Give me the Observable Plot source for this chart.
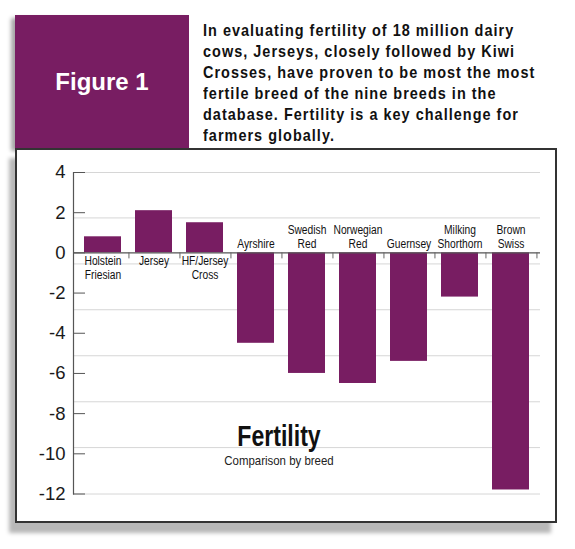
<!DOCTYPE html>
<html><head><meta charset="utf-8">
<script src="https://cdn.jsdelivr.net/npm/d3@7"></script>
<script src="https://cdn.jsdelivr.net/npm/@observablehq/plot@0.6"></script>
<style>
body{margin:0;background:#fff;}
#page{position:relative;width:575px;height:549px;overflow:hidden;background:#fff;}
#figbox{position:absolute;left:15px;top:15px;width:174px;height:133px;background:#781d62;box-shadow:-4px 3px 4px rgba(0,0,0,0.35);}
#figlabel{position:absolute;left:0;width:174px;top:53px;text-align:center;color:#fff;font:bold 24px "Liberation Sans",Arial,sans-serif;line-height:28px;}
#intro{position:absolute;left:203px;top:20px;font:bold 17px "Liberation Sans",Arial,sans-serif;letter-spacing:1.2px;line-height:21px;color:#111;white-space:nowrap;transform:scaleX(0.85);transform-origin:0 0;}
#chartbox{position:absolute;left:15px;top:148px;width:538px;height:371px;border:2px solid #333;background:#fff;box-shadow:-6px 10px 4px #b8b8b8;}
#ttl{position:absolute;left:179px;width:200px;top:419px;text-align:center;font:bold 30px "Liberation Sans",Arial,sans-serif;line-height:34px;color:#111;transform:scaleX(0.77);transform-origin:50% 0;}
#sub{position:absolute;left:179px;width:200px;top:453px;text-align:center;font:13px "Liberation Sans",Arial,sans-serif;line-height:16px;color:#222;transform:scaleX(0.88);transform-origin:50% 0;}
</style></head><body>
<div id="page">
  <div id="figbox"><div id="figlabel">Figure 1</div></div>
  <div id="intro">In evaluating fertility of 18 million dairy<br>cows, Jerseys, closely followed by Kiwi<br>Crosses, have proven to be most the most<br>fertile breed of the nine breeds in the<br>database. Fertility is a key challenge for<br>farmers globally.</div>
  <div id="chartbox"></div>
  <div id="ttl">Fertility</div>
  <div id="sub">Comparison by breed</div>
</div>
<script>
const breeds = ["Holstein Friesian","Jersey","HF/Jersey Cross","Ayrshire","Swedish Red","Norwegian Red","Guernsey","Milking Shorthorn","Brown Swiss"];
const breedLabels = ["Holstein\nFriesian","Jersey","HF/Jersey\nCross","Ayrshire","Swedish\nRed","Norwegian\nRed","Guernsey","Milking\nShorthorn","Brown\nSwiss"];
const fertility = [0.8, 2.1, 1.5, -4.5, -6.0, -6.5, -5.4, -2.2, -11.8];
const yTicks = [4, 2, 0, -2, -4, -6, -8, -10, -12];
const gridLines = [4, 1.74, -0.55, -2.83, -5.12, -7.41, -9.69, -12];

const purple = "#781d62";
const data = breeds.map((b, i) => ({breed: b, label: breedLabels[i], value: fertility[i]}));

const W = 538, H = 371, mL = 56, mR = 15, mT = 22, mB = 27.5;
const step = (W - mL - mR) / breeds.length;
const sans = "'Liberation Sans',Arial,sans-serif";

const chart = Plot.plot({
  width: W, height: H,
  marginLeft: mL, marginRight: mR, marginTop: mT, marginBottom: mB,
  style: {background: "transparent", fontFamily: sans, overflow: "visible"},
  x: {domain: breeds, paddingInner: 0.28, paddingOuter: 0.14, axis: null},
  y: {domain: [-12, 4], axis: null, label: null},
  marks: [
    Plot.ruleY(gridLines, {stroke: "#d6d6d6", strokeWidth: 1}),
    Plot.barY(data, {x: "breed", y: "value", fill: purple}),
    Plot.ruleY([0], {stroke: "#555", strokeWidth: 1.2}),
    Plot.ruleX(breeds, {x: d => d, y1: 0, y2: 0, insetBottom: -6, dx: step / 2, stroke: "#666"}),
    Plot.frame({anchor: "left", stroke: "#555", strokeWidth: 1.2}),
    Plot.axisY(yTicks, {anchor: "left", tickSize: 0, tickPadding: 8, label: null, fontSize: 18.5, tickFormat: d => String(d), fill: "#1a1a1a"}),
    Plot.axisY(yTicks, {anchor: "left", tickSize: 12, dx: 12, text: null, label: null, stroke: "#555"}),
    Plot.text(data.filter(d => d.value >= 0), {x: "breed", y: 0, text: "label", lineAnchor: "top", dy: 2, fontSize: 12.5, lineHeight: 1.14, fill: "#111"}),
    Plot.text(data.filter(d => d.value < 0), {x: "breed", y: 0, text: "label", lineAnchor: "bottom", dy: -5, fontSize: 12.5, lineHeight: 1.14, fill: "#111"})
  ]
});
// condense the breed labels horizontally (no condensed font is installed)
chart.querySelectorAll('g[aria-label="text"] text').forEach(t => {
  const tr = t.getAttribute("transform");
  if (tr) t.setAttribute("transform", tr + " scale(0.82,1)");
  else {
    const x = +t.getAttribute("x") || 0, y = +t.getAttribute("y") || 0;
    t.setAttribute("transform", `translate(${x},${y}) scale(0.82,1) translate(${-x},${-y})`);
  }
});
document.getElementById("chartbox").appendChild(chart);
</script>
</body></html>
